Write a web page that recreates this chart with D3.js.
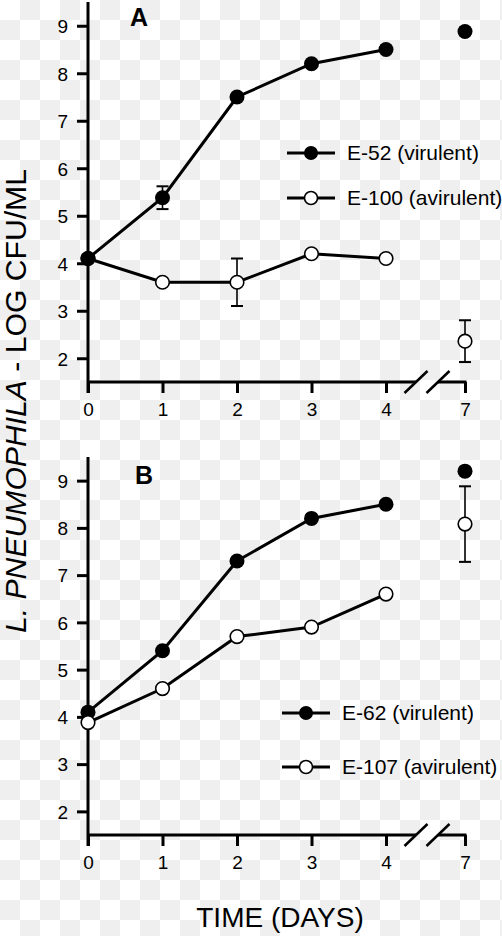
<!DOCTYPE html>
<html>
<head>
<meta charset="utf-8">
<script src="https://cdn.jsdelivr.net/npm/d3@7"></script>
<style>
  html, body { margin: 0; padding: 0; background: #fff; }
  svg { display: block; }
</style>
</head>
<body>
<svg id="chart" width="502" height="936"></svg>
<script>
// ---- data ----
const days = [0, 1, 2, 3, 4, 7];
const xTickLabels = ["0", "1", "2", "3", "4", "7"];
const yTicks = [2, 3, 4, 5, 6, 7, 8, 9];

const e52 = [4.1, 5.38, 7.5, 8.2, 8.5, 8.88];
const e52Err = [0, 0.24, 0, 0, 0, 0];
const e100 = [4.1, 3.6, 3.6, 4.2, 4.1, 2.36];
const e100Err = [0, 0, 0.5, 0, 0, 0.44];

const e62 = [4.1, 5.4, 7.3, 8.2, 8.5, 9.2];
const e62Err = [0, 0, 0, 0, 0, 0];
const e107 = [3.88, 4.6, 5.7, 5.9, 6.6, 8.08];
const e107Err = [0, 0, 0, 0, 0, 0.8];

const panels = [
  { label: "A", top: 2, bottom: 382, labelX: 130, labelY: 26,
    legendX: 287, legendY: [153, 198], order: ["open", "filled"],
    series: [
      { name: "E-52 (virulent)", type: "filled", values: e52, err: e52Err },
      { name: "E-100 (avirulent)", type: "open", values: e100, err: e100Err }
    ] },
  { label: "B", top: 457, bottom: 835, labelX: 135, labelY: 484,
    legendX: 282, legendY: [713, 767], order: ["filled", "open"],
    series: [
      { name: "E-62 (virulent)", type: "filled", values: e62, err: e62Err },
      { name: "E-107 (avirulent)", type: "open", values: e107, err: e107Err }
    ] }
];

const svg = d3.select("#chart");
const W = 502, H = 936;
const FONT = "'Liberation Sans', Arial, Helvetica, sans-serif";

// checkerboard background
const pat = svg.append("defs").append("pattern")
  .attr("id", "checker").attr("width", 40).attr("height", 40)
  .attr("patternUnits", "userSpaceOnUse");
pat.append("rect").attr("width", 40).attr("height", 40).attr("fill", "#ffffff");
pat.append("rect").attr("x", 20).attr("y", 0).attr("width", 20).attr("height", 20).attr("fill", "#efefef");
pat.append("rect").attr("x", 0).attr("y", 20).attr("width", 20).attr("height", 20).attr("fill", "#efefef");
svg.append("rect").attr("width", W).attr("height", H).attr("fill", "url(#checker)");

const x = d3.scaleLinear().domain([0, 4, 7]).range([88, 386, 465]);
const tickLen = 11;

panels.forEach(p => {
  const y = d3.scaleLinear().domain([1.5, 9.5]).range([p.bottom, p.top]);
  const g = svg.append("g");

  // y axis
  const ya = g.append("g").attr("transform", `translate(${x(0)},0)`)
    .call(d3.axisLeft(y).tickValues(yTicks).tickFormat(d3.format("d"))
      .tickSize(tickLen).tickPadding(9));
  ya.select(".domain").remove();
  ya.selectAll(".tick line").attr("stroke", "#000").attr("stroke-width", 3);
  ya.selectAll(".tick text").attr("font-family", FONT).attr("font-size", 19)
    .attr("fill", "#000").attr("dy", "0.36em");
  g.append("line").attr("x1", x(0)).attr("x2", x(0))
    .attr("y1", y(9.5)).attr("y2", y(1.5) + tickLen)
    .attr("stroke", "#000").attr("stroke-width", 3);

  // x axis
  const xa = g.append("g").attr("transform", `translate(0,${y(1.5)})`)
    .call(d3.axisBottom(x).tickValues(days).tickFormat((d, i) => xTickLabels[i])
      .tickSize(tickLen).tickPadding(10));
  xa.select(".domain").remove();
  xa.selectAll(".tick line").attr("stroke", "#000").attr("stroke-width", 3);
  xa.selectAll(".tick text").attr("font-family", FONT).attr("font-size", 19)
    .attr("fill", "#000");
  const ay = y(1.5);
  const b1 = x(4) + 30, b2 = x(4) + 52;
  g.append("line").attr("x1", x(0)).attr("x2", b1).attr("y1", ay).attr("y2", ay)
    .attr("stroke", "#000").attr("stroke-width", 3);
  g.append("line").attr("x1", b2).attr("x2", x(7) + 1.5).attr("y1", ay).attr("y2", ay)
    .attr("stroke", "#000").attr("stroke-width", 3);
  [b1, b2].forEach(bx => {
    g.append("line").attr("x1", bx - 11.5).attr("y1", ay + 11)
      .attr("x2", bx + 11.5).attr("y2", ay - 11)
      .attr("stroke", "#000").attr("stroke-width", 2.5);
  });

  // panel label
  g.append("text").attr("x", p.labelX).attr("y", p.labelY)
    .attr("font-family", FONT).attr("font-weight", "bold").attr("font-size", 25)
    .attr("fill", "#000").text(p.label);

  // lines
  const line = d3.line().x(d => x(d.day)).y(d => y(d.v));
  const pts = s => days.map((d, i) => ({ day: d, v: s.values[i], e: s.err[i] }));
  p.series.forEach(s => {
    g.append("path").datum(pts(s).filter(d => d.day <= 4))
      .attr("d", line).attr("fill", "none").attr("stroke", "#000")
      .attr("stroke-width", 3);
  });

  // error bars
  p.series.forEach(s => {
    pts(s).filter(d => d.e > 0).forEach(d => {
      const eg = g.append("g").attr("stroke", "#000");
      eg.append("line").attr("x1", x(d.day)).attr("x2", x(d.day))
        .attr("y1", y(d.v + d.e)).attr("y2", y(d.v - d.e)).attr("stroke-width", 1.6);
      [d.v + d.e, d.v - d.e].forEach(v => {
        eg.append("line").attr("x1", x(d.day) - 6).attr("x2", x(d.day) + 6)
          .attr("y1", y(v)).attr("y2", y(v)).attr("stroke-width", 2);
      });
    });
  });

  // markers
  p.order.forEach(type => {
    const s = p.series.find(ss => ss.type === type);
    g.selectAll(null).data(pts(s)).enter().append("circle")
      .attr("cx", d => x(d.day)).attr("cy", d => y(d.v))
      .attr("r", type === "filled" ? 7.5 : 6.8)
      .attr("fill", type === "filled" ? "#000" : "#fff")
      .attr("stroke", "#000").attr("stroke-width", type === "filled" ? 0 : 1.6);
  });

  // legend
  p.series.forEach((s, i) => {
    const ly = p.legendY[i];
    g.append("line").attr("x1", p.legendX).attr("x2", p.legendX + 48)
      .attr("y1", ly).attr("y2", ly).attr("stroke", "#000").attr("stroke-width", 3);
    g.append("circle").attr("cx", p.legendX + 24).attr("cy", ly)
      .attr("r", s.type === "filled" ? 7 : 6.5)
      .attr("fill", s.type === "filled" ? "#000" : "#fff")
      .attr("stroke", "#000").attr("stroke-width", s.type === "filled" ? 0 : 1.6);
    g.append("text").attr("x", p.legendX + 60).attr("y", ly + 7)
      .attr("font-family", FONT).attr("font-size", 21).attr("fill", "#000")
      .text(s.name);
  });
});

// axis titles
const yt = svg.append("text")
  .attr("transform", "translate(26,401) rotate(-90)")
  .attr("text-anchor", "middle").attr("font-family", FONT).attr("font-size", 29)
  .attr("textLength", 464).attr("lengthAdjust", "spacingAndGlyphs")
  .attr("fill", "#000");
yt.append("tspan").attr("font-style", "italic").text("L. PNEUMOPHILA");
yt.append("tspan").text(" - LOG CFU/ML");

svg.append("text").attr("x", 280).attr("y", 927).attr("text-anchor", "middle")
  .attr("font-family", FONT).attr("font-size", 28).attr("fill", "#000")
  .text("TIME (DAYS)");
</script>
</body>
</html>
